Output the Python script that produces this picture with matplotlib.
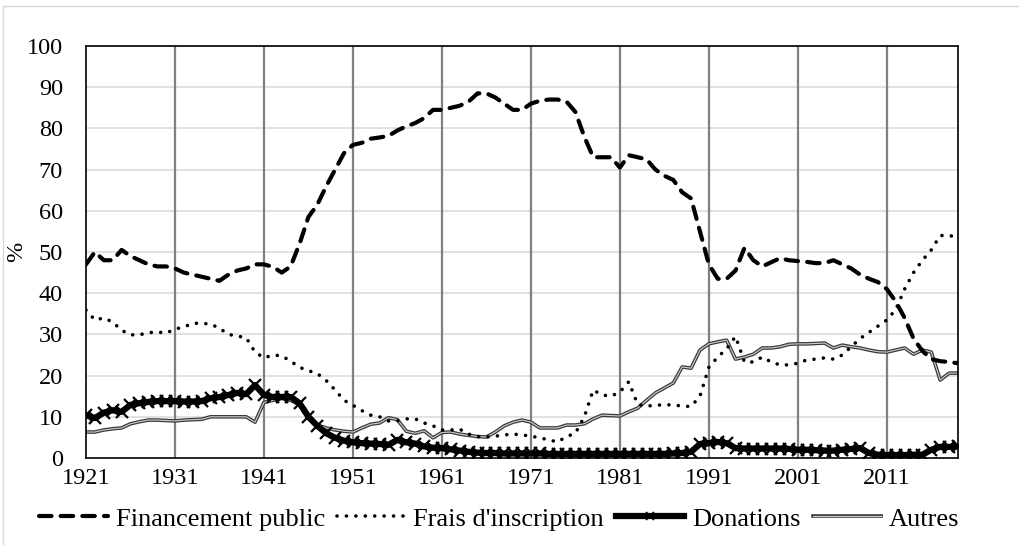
import numpy as np
import matplotlib
matplotlib.use("Agg")
import matplotlib.pyplot as plt
from matplotlib.lines import Line2D

plt.rcParams.update({
    "font.family": ["Liberation Serif", "DejaVu Serif"],
    "font.size": 17.5,
})

years = list(range(1921, 2020))

financement_public = [
    47, 50, 48, 48, 50.5, 49, 48, 47, 46.5, 46.5,          # 1921-1930
    46, 45, 44.5, 44, 43.5, 43, 44.5, 45.5, 46, 47,        # 1931-1940
    47, 46.4, 45, 46.5, 52, 58.5, 61.5, 66, 70, 74,        # 1941-1950
    76, 76.5, 77.5, 77.8, 78.2, 79.5, 80.5, 81.3, 82.5, 84.5,  # 1951-1960
    84.5, 85, 85.5, 86.5, 88.5, 88.5, 87.5, 86, 84.5, 84.5,    # 1961-1970
    86, 86.7, 87, 87, 86.5, 84, 78, 73, 73, 73,            # 1971-1980
    70.5, 73.5, 73, 72.5, 70, 68.5, 67.5, 64.5, 63, 55,    # 1981-1990
    47, 43.5, 43.5, 45.5, 51, 48, 46.5, 47.5, 48.5, 48,    # 1991-2000
    47.8, 47.6, 47.3, 47.3, 48, 47, 46, 44.5, 43.5, 42.7,  # 2001-2010
    41, 38, 34, 29, 26, 24, 23.5, 23.3, 23,                # 2011-2019
]

frais_inscription = [
    35.9, 33.5, 34, 33, 31, 29.9, 29.9, 30.4, 30.6, 30.3,
    31.3, 31.8, 32.7, 32.7, 32.5, 31.5, 30, 29.6, 29.2, 25.7,
    24.3, 25, 24.8, 23.5, 22, 21.2, 20.5, 18.8, 16.5, 14,
    12.8, 11.5, 10.4, 10, 9, 9, 9.5, 9.5, 8.5, 7.8,
    6.8, 6.8, 7, 5.8, 5.2, 5.1, 5.3, 5.6, 5.8, 5.6,
    5.3, 4.9, 4.4, 3.9, 5.2, 6.0, 10, 16.5, 15.3, 15,
    16, 18.5, 13, 12.6, 12.8, 12.9, 12.9, 12.6, 12.5, 15,
    22, 24.5, 26.5, 29.5, 23.3, 23.3, 24.5, 23.3, 22.6, 22.6,
    23, 23.8, 24, 24.3, 24, 25, 27, 29, 30.5, 32,
    33.5, 36, 41, 45, 48, 50.5, 54, 54, 53.6,
]

donations = [
    10.4, 9.7, 11, 11.6, 11.2, 12.9, 13.3, 13.6, 13.8, 13.8,
    13.8, 13.7, 13.7, 13.8, 14.5, 14.8, 15.3, 15.8, 15.5, 17.7,
    15.3, 14.8, 14.8, 14.8, 13.3, 10, 7.8, 6, 4.9, 4.2,
    3.8, 3.6, 3.5, 3.4, 3.2, 4.4, 3.8, 3.5, 2.8, 2.5,
    2.4, 2.1, 1.8, 1.5, 1.3, 1.2, 1.2, 1.1, 1.1, 1.1,
    1.1, 1.1, 1.0, 1.0, 1.0, 1.0, 1.0, 1.0, 1.0, 1.0,
    1.0, 1.0, 1.0, 1.0, 1.0, 1.0, 1.1, 1.2, 1.5, 3.4,
    3.6, 3.9, 3.6, 2.4, 2.3, 2.3, 2.3, 2.3, 2.3, 2.2,
    2.0, 2.0, 1.9, 1.8, 1.8, 2.0, 2.2, 2.4, 1.2, 0.8,
    0.7, 0.7, 0.7, 0.8, 0.8, 2.0, 2.7, 2.7, 2.8,
]

autres = [
    6.3, 6.3, 6.8, 7.1, 7.3, 8.3, 8.8, 9.2, 9.2, 9.1,
    9.0, 9.2, 9.3, 9.4, 10, 10, 10, 10, 10, 8.7,
    13.5, 14, 14.5, 14, 12.9, 10, 8, 7.3, 6.8, 6.5,
    6.3, 7.3, 8.2, 8.5, 9.8, 9.3, 6.5, 6, 6.6, 4.9,
    6.2, 6.3, 5.8, 5.5, 5.2, 5.1, 6.3, 7.8, 8.7, 9.2,
    8.7, 7.3, 7.3, 7.3, 8, 8, 8.3, 9.5, 10.4, 10.3,
    10.2, 11.2, 12.1, 14, 15.8, 17, 18.2, 22.1, 21.8, 26.2,
    27.7, 28.2, 28.6, 24, 24.5, 25.2, 26.7, 26.7, 27, 27.6,
    27.7, 27.7, 27.8, 27.9, 26.7, 27.4, 27, 26.7, 26.2, 25.8,
    25.7, 26.2, 26.7, 25.2, 26.2, 25.7, 18.9, 20.6, 20.6,
]

x_ticks = list(range(1921, 2012, 10))
y_ticks = list(range(0, 101, 10))

fig = plt.figure(figsize=(10.19, 5.45), dpi=100)
ax = fig.add_axes([86 / 1019, 1 - 458 / 545, 872 / 1019, 412 / 545])

# light frame around the whole chart
fig.add_artist(Line2D([3 / 1019, 3 / 1019], [0, 1 - 6 / 545], transform=fig.transFigure,
                      color="#d9d9d9", lw=1))
fig.add_artist(Line2D([3 / 1019, 1], [1 - 6 / 545, 1 - 6 / 545], transform=fig.transFigure,
                      color="#d9d9d9", lw=1))

# grid: light horizontal, darker vertical every ten years
for v in y_ticks[1:]:
    ax.axhline(v, color="#d9d9d9", lw=1.1, zorder=0)
for yr in x_ticks[1:]:
    ax.axvline(yr, color="#808080", lw=1.6, zorder=0)

l_pub, = ax.plot(years, financement_public, color="black", lw=3,
                 linestyle=(0, (3, 2.2)), dash_capstyle="round", zorder=3)
l_frais, = ax.plot(years, frais_inscription, color="black", lw=2.6,
                   linestyle=(0, (0.01, 2.6)), dash_capstyle="round", zorder=3)
l_aut_out, = ax.plot(years, autres, color="#3a3a3a", lw=2.6, zorder=2)
l_aut_in, = ax.plot(years, autres, color="#d0d0d0", lw=0.8, zorder=2)
l_don, = ax.plot(years, donations, color="black", lw=4.5, marker="x",
                 markersize=8, markeredgewidth=1.6, zorder=4)

ax.set_xlim(1921, 2019)
ax.set_ylim(0, 100)
ax.set_xticks(x_ticks)
ax.set_yticks(y_ticks)
ax.tick_params(axis="both", length=0)
ax.tick_params(axis="x", pad=7)
ax.tick_params(axis="y", pad=16.5)
for side in ["left", "bottom", "top", "right"]:
    ax.spines[side].set_color("black")
    ax.spines[side].set_linewidth(1.2)

ax.set_ylabel("%")
ax.yaxis.set_label_coords(-0.068, 0.5)

legend_don = Line2D([], [], color="black", lw=4.5, marker="x", markersize=6, markeredgewidth=1.2)
fig.legend([l_pub, l_frais, legend_don, (l_aut_out, l_aut_in)],
           ["Financement public", "Frais d'inscription", "Donations", "Autres"],
           loc="center", bbox_to_anchor=(0.49, 0.048), ncol=4, frameon=False,
           handlelength=2.6, handletextpad=0.3, columnspacing=0.45, fontsize=19)

fig.savefig("out.png", dpi=100)
